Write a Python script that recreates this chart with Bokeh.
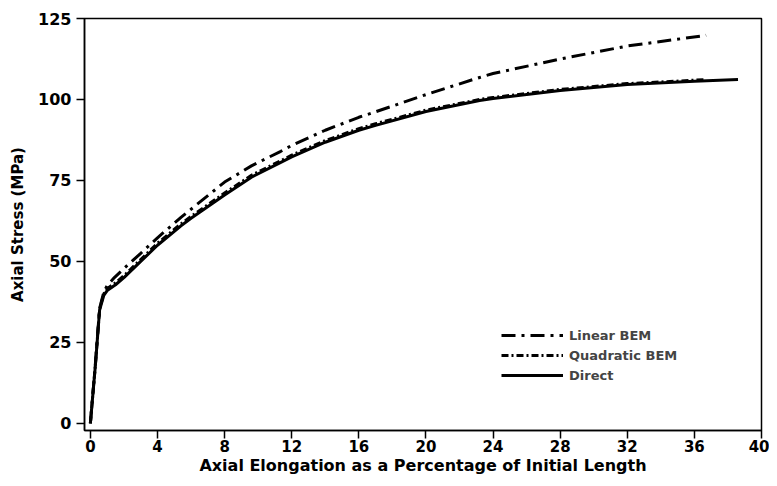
from bokeh.plotting import figure
from bokeh.models import Range1d, Legend, LegendItem, FixedTicker
from bokeh.embed import file_html
from bokeh.resources import INLINE

# Data
direct_x = [0, 0.3, 0.55, 0.8, 1.0, 1.5, 2, 3, 4, 5.4, 6, 8, 9.6, 11.35, 12, 14, 16, 17, 20, 23.2, 24, 28, 32, 36, 38.6]
direct_y = [0, 18, 35, 39.5, 41, 42.8, 45, 50, 55, 61, 63.3, 70.5, 76, 80.6, 82.3, 86.8, 90.5, 92, 96.3, 99.7, 100.3, 102.8, 104.6, 105.6, 106.2]

linear_x = [0, 0.3, 0.55, 0.8, 1.0, 1.43, 2, 3, 4, 5.4, 8, 9.6, 11.35, 12, 14, 16, 17, 20, 23.2, 24, 28, 32, 36.7]
linear_y = [0, 18.5, 35.5, 40.5, 42.5, 45, 47.8, 52.5, 57.3, 63.6, 74.5, 79.5, 84, 85.8, 90.5, 94.5, 96.2, 101.5, 106.8, 108, 112.5, 116.5, 119.8]

quad_x = [0, 0.3, 0.55, 0.8, 1.0, 1.5, 2, 3, 4, 5.4, 6, 8, 9.6, 11.35, 12, 14, 16, 17, 20, 23.2, 24, 28, 32, 36.6]
quad_y = [0, 18.2, 35.3, 40, 41.6, 43.4, 45.6, 50.6, 55.6, 61.6, 63.9, 71.1, 76.6, 81.1, 82.8, 87.3, 91, 92.5, 96.7, 100, 100.6, 103.1, 104.9, 106.1]

x_ticks = [0, 4, 8, 12, 16, 20, 24, 28, 32, 36, 40]
y_ticks = [0, 25, 50, 75, 100, 125]

FONT = "DejaVu Sans"

p = figure(width=769, height=478, output_backend="svg", toolbar_location=None,
           x_range=Range1d(-0.35, 40), y_range=Range1d(-2.2, 125),
           min_border_left=84, min_border_right=8, min_border_top=18, min_border_bottom=48)

p.xgrid.visible = False
p.ygrid.visible = False
p.outline_line_color = "black"
p.outline_line_width = 1.5

for ax in (p.xaxis[0], p.yaxis[0]):
    ax.axis_line_width = 1.5
    ax.major_tick_line_width = 1.5
    ax.major_tick_out = 8
    ax.major_tick_in = 0
    ax.minor_tick_out = 0
    ax.minor_tick_in = 0
    ax.major_label_text_font = FONT
    ax.major_label_text_font_style = "bold"
    ax.major_label_text_color = "black"
    ax.axis_label_text_font = FONT
    ax.axis_label_text_font_style = "bold"
    ax.axis_label_text_color = "black"

p.xaxis.major_label_text_font_size = "15px"
p.yaxis.major_label_text_font_size = "16px"
p.xaxis.axis_label_text_font_size = "16px"
p.yaxis.axis_label_text_font_size = "15px"
p.xaxis.ticker = FixedTicker(ticks=x_ticks)
p.yaxis.ticker = FixedTicker(ticks=y_ticks)
p.xaxis.axis_label = "Axial Elongation as a Percentage of Initial Length"
p.yaxis.axis_label = "Axial Stress (MPa)"
p.xaxis.axis_label_standoff = 1
p.yaxis.axis_label_standoff = 8
p.xaxis.major_label_standoff = 1
p.yaxis.major_label_standoff = 5

r_lin = p.line(linear_x, linear_y, line_color="black", line_width=3, line_dash="14 6 3 6")
r_quad = p.line(quad_x, quad_y, line_color="black", line_width=3, line_dash="7 3 2 3")
r_dir = p.line(direct_x, direct_y, line_color="black", line_width=3)

legend = Legend(items=[
    LegendItem(label="Linear BEM", renderers=[r_lin]),
    LegendItem(label="Quadratic BEM", renderers=[r_quad]),
    LegendItem(label="Direct", renderers=[r_dir]),
], location=(417, 45))
legend.background_fill_alpha = 0
legend.border_line_alpha = 0
legend.glyph_width = 62
legend.glyph_height = 20
legend.label_height = 20
legend.spacing = 0
legend.padding = 0
legend.margin = 0
legend.label_standoff = 6
legend.label_text_font = FONT
legend.label_text_font_style = "bold"
legend.label_text_font_size = "13px"
p.add_layout(legend, "center")

open("out.html", "w").write(file_html(p, INLINE))
